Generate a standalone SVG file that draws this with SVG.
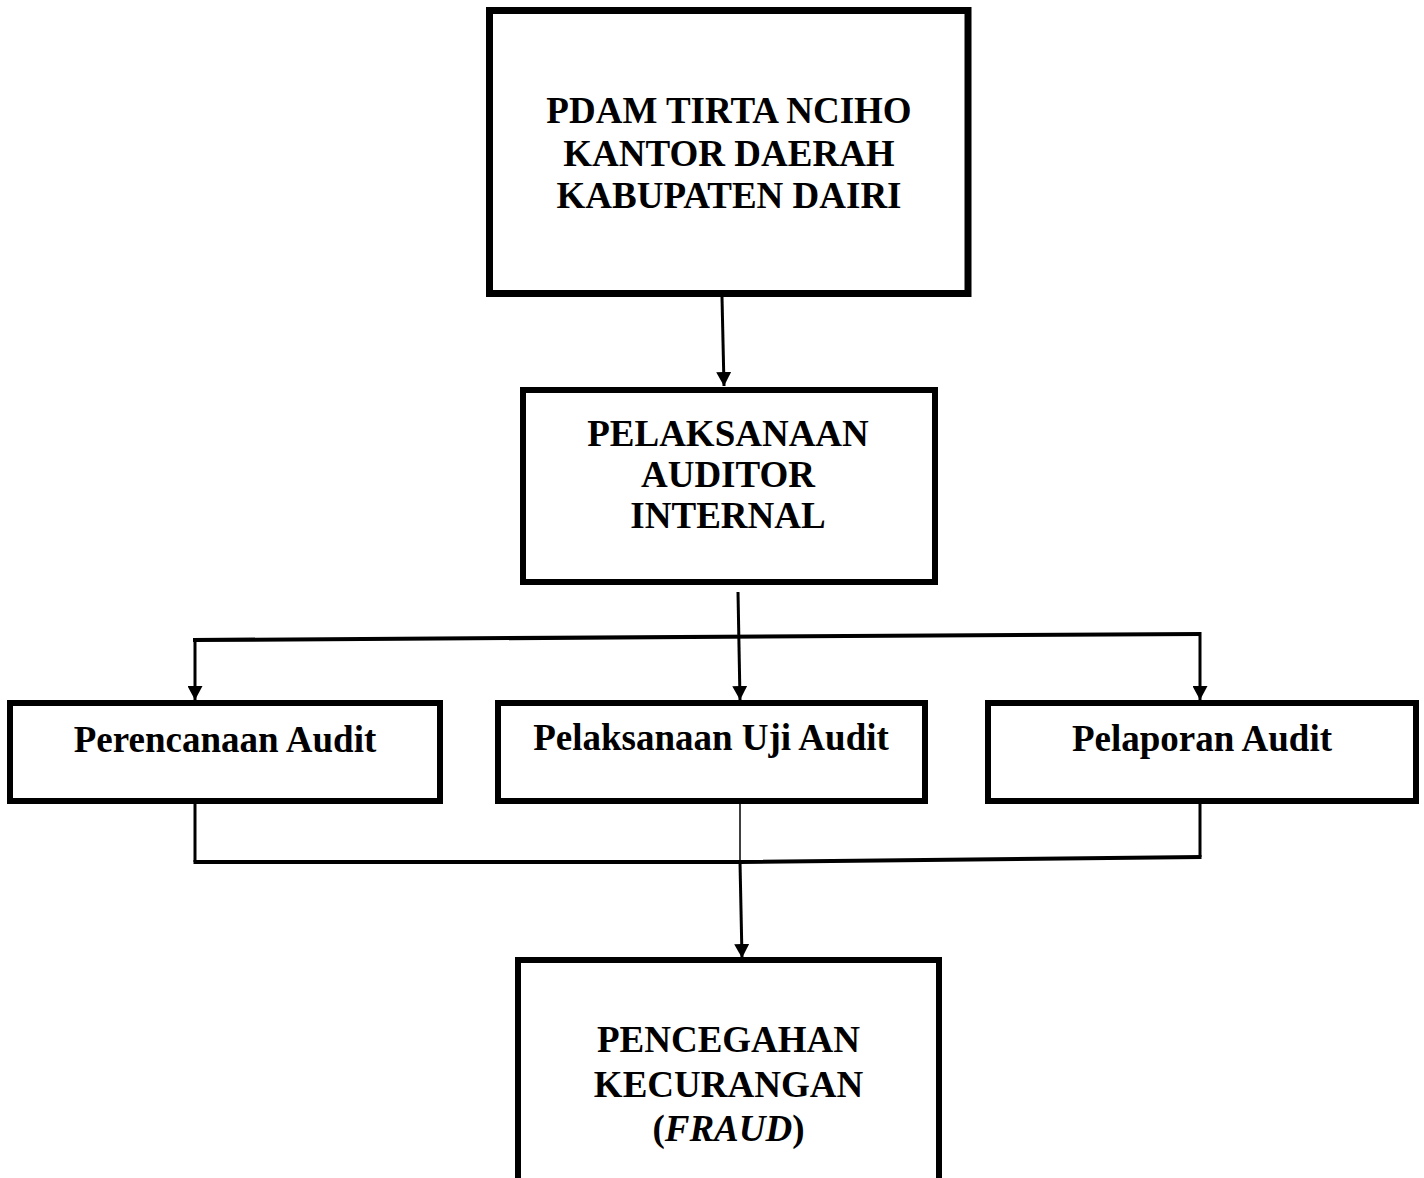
<svg xmlns="http://www.w3.org/2000/svg" width="1424" height="1178" viewBox="0 0 1424 1178">
<style>
  .box { fill: #ffffff; stroke: #000000; stroke-width: 6; }
  .lbl { font-family: "Liberation Serif", "Times New Roman", serif; font-weight: bold; font-size: 37px; fill: #000000; text-anchor: middle; }
  .conn { fill: none; stroke: #000000; stroke-linecap: butt; }
  .arrow { stroke-width: 3; }
  .bar { stroke-width: 4; }
  .thin { stroke-width: 1.5; }
</style>
<defs>
  <marker id="ah" markerUnits="userSpaceOnUse" markerWidth="15" markerHeight="15" refX="14" refY="7.5" orient="auto">
    <path d="M0,0 L14,7.5 L0,15 z" fill="#000000"/>
  </marker>
</defs>
<rect width="1424" height="1178" fill="#ffffff"/>

<g id="connectors">
  <line class="conn arrow" x1="722" y1="297" x2="724" y2="386" marker-end="url(#ah)"/>
  <line class="conn arrow" x1="738" y1="592" x2="740" y2="700" marker-end="url(#ah)"/>
  <line class="conn bar" x1="193" y1="640" x2="1201" y2="634"/>
  <line class="conn arrow" x1="195" y1="638" x2="195" y2="700" marker-end="url(#ah)"/>
  <line class="conn arrow" x1="1200" y1="632" x2="1200" y2="700" marker-end="url(#ah)"/>
  <line class="conn arrow" x1="195" y1="803" x2="195" y2="862"/>
  <line class="conn thin" x1="740" y1="803" x2="740" y2="862"/>
  <line class="conn arrow" x1="1200" y1="803" x2="1200" y2="857"/>
  <polyline class="conn bar" points="193.5,862 740,862 1201.5,857"/>
  <line class="conn arrow" x1="740" y1="862" x2="742" y2="958" marker-end="url(#ah)"/>
</g>

<g id="node-pdam">
  <rect class="box" x="489.5" y="10.5" width="478.5" height="283" style="stroke-width:7"/>
  <text class="lbl" x="729" y="123">PDAM TIRTA NCIHO</text>
  <text class="lbl" x="729" y="166">KANTOR DAERAH</text>
  <text class="lbl" x="729" y="208">KABUPATEN DAIRI</text>
</g>

<g id="node-pelaksanaan-auditor">
  <rect class="box" x="523" y="390" width="412" height="192"/>
  <text class="lbl" x="728" y="446">PELAKSANAAN</text>
  <text class="lbl" x="728" y="487">AUDITOR</text>
  <text class="lbl" x="728" y="528">INTERNAL</text>
</g>

<g id="node-perencanaan">
  <rect class="box" x="10" y="703" width="430" height="98"/>
  <text class="lbl" x="225" y="752">Perencanaan Audit</text>
</g>

<g id="node-pelaksanaan-uji">
  <rect class="box" x="498" y="703" width="427" height="98"/>
  <text class="lbl" x="711" y="750">Pelaksanaan Uji Audit</text>
</g>

<g id="node-pelaporan">
  <rect class="box" x="988" y="703" width="428" height="98"/>
  <text class="lbl" x="1202" y="751">Pelaporan Audit</text>
</g>

<g id="node-pencegahan">
  <path class="box" d="M518,1180 V960 H939 V1180"/>
  <text class="lbl" x="728.5" y="1052">PENCEGAHAN</text>
  <text class="lbl" x="728.5" y="1097">KECURANGAN</text>
  <text class="lbl" x="728.5" y="1141">(<tspan font-style="italic">FRAUD</tspan>)</text>
</g>
</svg>
